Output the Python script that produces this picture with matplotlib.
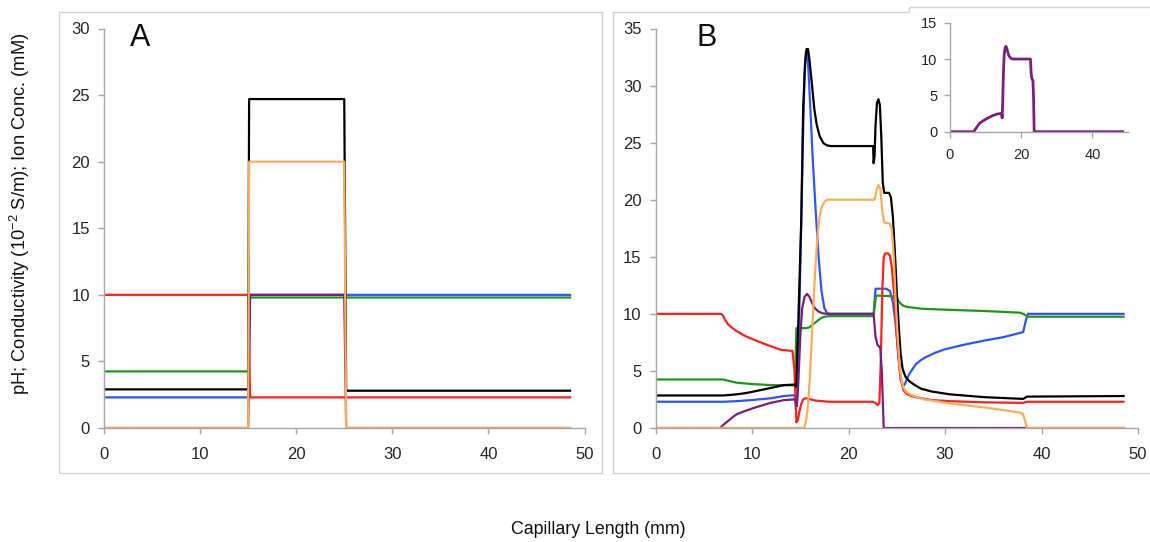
import matplotlib
matplotlib.use("Agg")
import matplotlib.pyplot as plt
from matplotlib.lines import Line2D

plt.rcParams['font.family'] = ['Liberation Sans', 'DejaVu Sans']
plt.rcParams['mathtext.fontset'] = 'custom'
plt.rcParams['mathtext.rm'] = 'Liberation Sans'
plt.rcParams['mathtext.default'] = 'regular'

# ---------------- Panel A: initial step profiles ----------------
a_black_x = [0, 15.0, 15.1, 25.0, 25.2, 48.5]
a_black_y = [2.9, 2.9, 24.7, 24.7, 2.8, 2.8]
a_orange_x = [0, 15.0, 15.1, 25.0, 25.2, 48.5]
a_orange_y = [0, 0, 20.0, 20.0, 0, 0]
a_red_x = [0, 15.0, 15.2, 48.5]
a_red_y = [10.0, 10.0, 2.3, 2.3]
a_blue_x = [0, 15.0, 15.2, 48.5]
a_blue_y = [2.3, 2.3, 10.0, 10.0]
a_green_x = [0, 15.0, 15.2, 48.5]
a_green_y = [4.25, 4.25, 9.8, 9.8]
a_purple_x = [0, 15.0, 15.2, 25.0, 25.2, 48.5]
a_purple_y = [0, 0, 10.0, 10.0, 0, 0]

# ---------------- Panel B: profiles after migration ----------------
b_red_x = [0, 6.8, 7.0, 7.2, 7.5, 7.9, 8.4, 9.2, 10.0, 11.5, 13.0, 14.2, 14.4, 14.6,
           14.75, 14.9, 15.1, 15.3, 15.5, 15.7, 16.1, 16.6, 18.0, 22.5, 22.8, 23.0,
           23.2, 23.35, 23.5, 23.65, 23.8, 24.1, 24.3, 24.5, 24.7, 24.9, 25.1, 25.3,
           25.5, 25.7, 26.0, 26.5, 27.0, 28.6, 30.5, 34.1, 38.1, 38.5, 48.5]
b_red_y = [10.0, 10.0, 9.85, 9.5, 9.1, 8.8, 8.5, 8.1, 7.8, 7.3, 6.85, 6.75, 5.0, 0.5,
           0.7, 1.4, 2.1, 2.5, 2.6, 2.6, 2.5, 2.4, 2.3, 2.3, 2.2, 2.0,
           2.2, 6.0, 12.0, 15.0, 15.3, 15.3, 15.1, 14.0, 12.0, 9.5, 7.0, 5.2,
           4.0, 3.3, 3.0, 2.8, 2.7, 2.45, 2.35, 2.25, 2.2, 2.3, 2.3]

b_blue_x = [0, 7.0, 8.4, 10.0, 11.9, 13.3, 14.4, 14.55, 14.7, 14.9, 15.1, 15.3, 15.45,
            15.6, 15.75, 15.9, 16.1, 16.3, 16.6, 16.9, 17.2, 17.5, 17.8, 18.1, 22.6,
            22.8, 23.9, 24.3, 24.6, 24.9, 25.2, 25.4, 25.7, 25.85, 26.0, 26.25, 26.5,
            27.0, 27.5, 28.0, 29.0, 30.0, 32.0, 34.0, 36.0, 38.1, 38.4, 38.6, 48.5]
b_blue_y = [2.3, 2.3, 2.35, 2.45, 2.6, 2.8, 2.88, 1.9, 3.0, 10.0, 18.0, 26.0, 31.0,
            33.0, 32.8, 30.5, 27.0, 23.5, 19.0, 15.0, 12.0, 10.5, 10.05, 10.0, 10.0,
            12.2, 12.2, 12.0, 11.0, 9.0, 6.0, 4.2, 3.7, 3.85, 4.2, 4.65, 5.0,
            5.6, 5.95, 6.2, 6.6, 6.9, 7.3, 7.65, 7.95, 8.4, 9.5, 10.0, 10.0]

b_green_x = [0, 7.0, 7.5, 8.0, 8.4, 10.0, 11.9, 14.0, 14.45, 14.6, 15.6, 15.9, 16.2,
             16.5, 16.8, 17.1, 17.5, 18.0, 22.6, 22.85, 24.5, 25.0, 25.2, 25.4, 25.7,
             26.1, 27.6, 30.5, 34.1, 37.8, 38.1, 38.6, 48.5]
b_green_y = [4.25, 4.25, 4.15, 4.05, 3.97, 3.85, 3.76, 3.74, 3.74, 8.75, 8.75, 8.8, 9.0,
             9.2, 9.4, 9.6, 9.75, 9.8, 9.8, 11.6, 11.55, 11.4, 11.1, 10.9, 10.7,
             10.6, 10.45, 10.35, 10.25, 10.1, 10.0, 9.75, 9.75]

b_black_x = [0, 7.0, 7.8, 8.4, 9.3, 10.2, 11.9, 13.3, 14.4, 14.6, 15.1, 15.3, 15.5,
             15.65, 15.8, 15.95, 16.2, 16.45, 16.7, 17.0, 17.4, 17.8, 18.2, 22.55,
             22.6, 22.7, 22.8, 22.95, 23.1, 23.25, 23.4, 23.55, 23.7, 24.2, 24.4,
             24.6, 24.8, 25.0, 25.2, 25.4, 25.6, 25.9, 26.3, 26.8, 27.5, 28.6, 30.5,
             34.1, 38.1, 38.5, 48.5]
b_black_y = [2.85, 2.85, 2.9, 2.95, 3.05, 3.2, 3.5, 3.76, 3.8, 3.6, 18.0, 28.0, 32.0,
             33.2, 33.2, 32.3, 30.2, 28.0, 26.6, 25.6, 24.95, 24.75, 24.7, 24.7,
             23.2, 23.8, 26.5, 28.5, 28.8, 28.3, 25.5, 21.5, 20.6, 20.6, 20.2,
             18.5, 15.5, 12.0, 9.0, 6.5, 5.2, 4.5, 4.1, 3.8, 3.45, 3.2, 2.95,
             2.7, 2.55, 2.75, 2.8]

b_orange_x = [0, 15.4, 15.6, 15.8, 16.0, 16.2, 16.4, 16.6, 16.8, 17.0, 17.2, 17.5, 17.8,
              22.7, 22.9, 23.1, 23.3, 23.5, 23.7, 24.3, 24.5, 24.7, 24.9, 25.1, 25.3,
              25.5, 25.7, 26.0, 26.5, 27.9, 30.5, 34.1, 37.8, 38.1, 38.5, 48.5]
b_orange_y = [0, 0, 0.6, 2.0, 4.5, 8.0, 11.5, 14.5, 17.0, 18.5, 19.3, 19.8, 20.0,
              20.0, 20.8, 21.3, 21.0, 19.0, 18.0, 17.9, 17.3, 15.0, 11.0, 8.0, 5.5,
              4.2, 3.5, 3.15, 2.9, 2.5, 2.15, 1.8, 1.35, 1.2, 0, 0]

b_purple_x = [0, 6.7, 7.0, 7.5, 8.0, 8.4, 9.3, 10.2, 11.9, 13.3, 14.3, 14.5, 14.65,
              14.8, 15.0, 15.2, 15.45, 15.7, 15.95, 16.2, 16.5, 16.9, 17.3, 17.8,
              22.6, 22.8, 23.0, 23.3, 23.45, 23.65, 48.5]
b_purple_y = [0, 0, 0.25, 0.6, 0.95, 1.2, 1.5, 1.76, 2.2, 2.44, 2.5, 2.5, 1.9,
              4.0, 8.0, 10.5, 11.5, 11.75, 11.5, 11.0, 10.5, 10.2, 10.05, 10.0,
              10.0, 8.0, 7.3, 7.0, 5.0, 0, 0]

# Colours of the species / quantities
c_black = '#000000'
c_orange = '#ffad5c'
c_red = '#ff2020'
c_blue = '#2f55ff'
c_green = '#1e961e'
c_purple = '#7a1f7a'

W, H = 1150, 542
fig = plt.figure(figsize=(W / 100, H / 100), dpi=100)


def fx(px):
    return px / W


def fy(py):
    return 1 - py / H


frame_col = '#d4d4d4'
spine_col = '#a6a6a6'
tick_text = '#262626'


def style_axes(ax, ymax, fs=12, xpad=10, ypad=6):
    for s in ('top', 'right'):
        ax.spines[s].set_visible(False)
    for s in ('left', 'bottom'):
        ax.spines[s].set_color(spine_col)
        ax.spines[s].set_linewidth(1.0)
    ax.tick_params(axis='both', colors=spine_col, labelcolor=tick_text,
                   labelsize=fs, length=4, width=1, direction='out')
    ax.tick_params(axis='x', pad=xpad)
    ax.tick_params(axis='y', pad=ypad)
    ax.set_xlim(0, 50)
    ax.set_ylim(0, ymax)
    ax.set_facecolor('none')


# Panel frames
fig.add_artist(Line2D([fx(58.5), fx(601.7), fx(601.7), fx(58.5), fx(58.5)],
                      [fy(12.3), fy(12.3), fy(473), fy(473), fy(12.3)],
                      color=frame_col, lw=1.0))
fig.add_artist(Line2D([fx(909), fx(613.3), fx(613.3), fx(1150)],
                      [fy(12.3), fy(12.3), fy(473), fy(473)],
                      color=frame_col, lw=1.0))
fig.add_artist(Line2D([fx(909), fx(909), fx(1150)],
                      [fy(12.3), fy(6.7), fy(6.7)],
                      color=frame_col, lw=1.0))

lw = 1.6

# ---- Panel A ----
axA = fig.add_axes([fx(104), fy(428), fx(584.5) - fx(104), fy(28.5) - fy(428)])
style_axes(axA, 30)
axA.set_yticks(range(0, 31, 5))
axA.set_xticks(range(0, 51, 10))
axA.plot(a_blue_x, a_blue_y, color=c_blue, lw=lw)
axA.plot(a_red_x, a_red_y, color=c_red, lw=lw)
axA.plot(a_green_x, a_green_y, color=c_green, lw=lw)
axA.plot(a_black_x, a_black_y, color=c_black, lw=lw)
axA.plot(a_purple_x, a_purple_y, color=c_purple, lw=lw)
axA.plot(a_orange_x, a_orange_y, color=c_orange, lw=lw)
fig.text(fx(140.5), fy(38), 'A', fontsize=22, ha='center', va='center', color='#111111')

# ---- Panel B ----
axB = fig.add_axes([fx(655.5), fy(428), fx(1138) - fx(655.5), fy(28.5) - fy(428)])
style_axes(axB, 35)
axB.set_yticks(range(0, 36, 5))
axB.set_xticks(range(0, 51, 10))
axB.plot(b_blue_x, b_blue_y, color=c_blue, lw=lw)
axB.plot(b_green_x, b_green_y, color=c_green, lw=lw)
axB.plot(b_red_x, b_red_y, color=c_red, lw=lw)
axB.plot(b_black_x, b_black_y, color=c_black, lw=lw)
axB.plot(b_purple_x, b_purple_y, color=c_purple, lw=lw)
axB.plot(b_orange_x, b_orange_y, color=c_orange, lw=lw)
fig.text(fx(707), fy(38), 'B', fontsize=22, ha='center', va='center', color='#111111')

# ---- Inset: purple species only ----
axI = fig.add_axes([fx(950), fy(131.7), fx(1128) - fx(950), fy(22.7) - fy(131.7)])
style_axes(axI, 15, fs=10.5, xpad=8, ypad=5)
axI.set_yticks([0, 5, 10, 15])
axI.set_xticks([0, 20, 40])
axI.plot(b_purple_x, b_purple_y, color=c_purple, lw=2.0)

# Shared axis titles
fig.text(fx(20), fy(214), 'pH; Conductivity (10$^{-2}$ S/m); Ion Conc. (mM)',
         rotation=90, ha='center', va='center', fontsize=13.2, color='#111111')
fig.text(fx(598), fy(530), 'Capillary Length (mm)', ha='center', va='center',
         fontsize=12.8, color='#111111')

fig.savefig('out.png', dpi=100)
